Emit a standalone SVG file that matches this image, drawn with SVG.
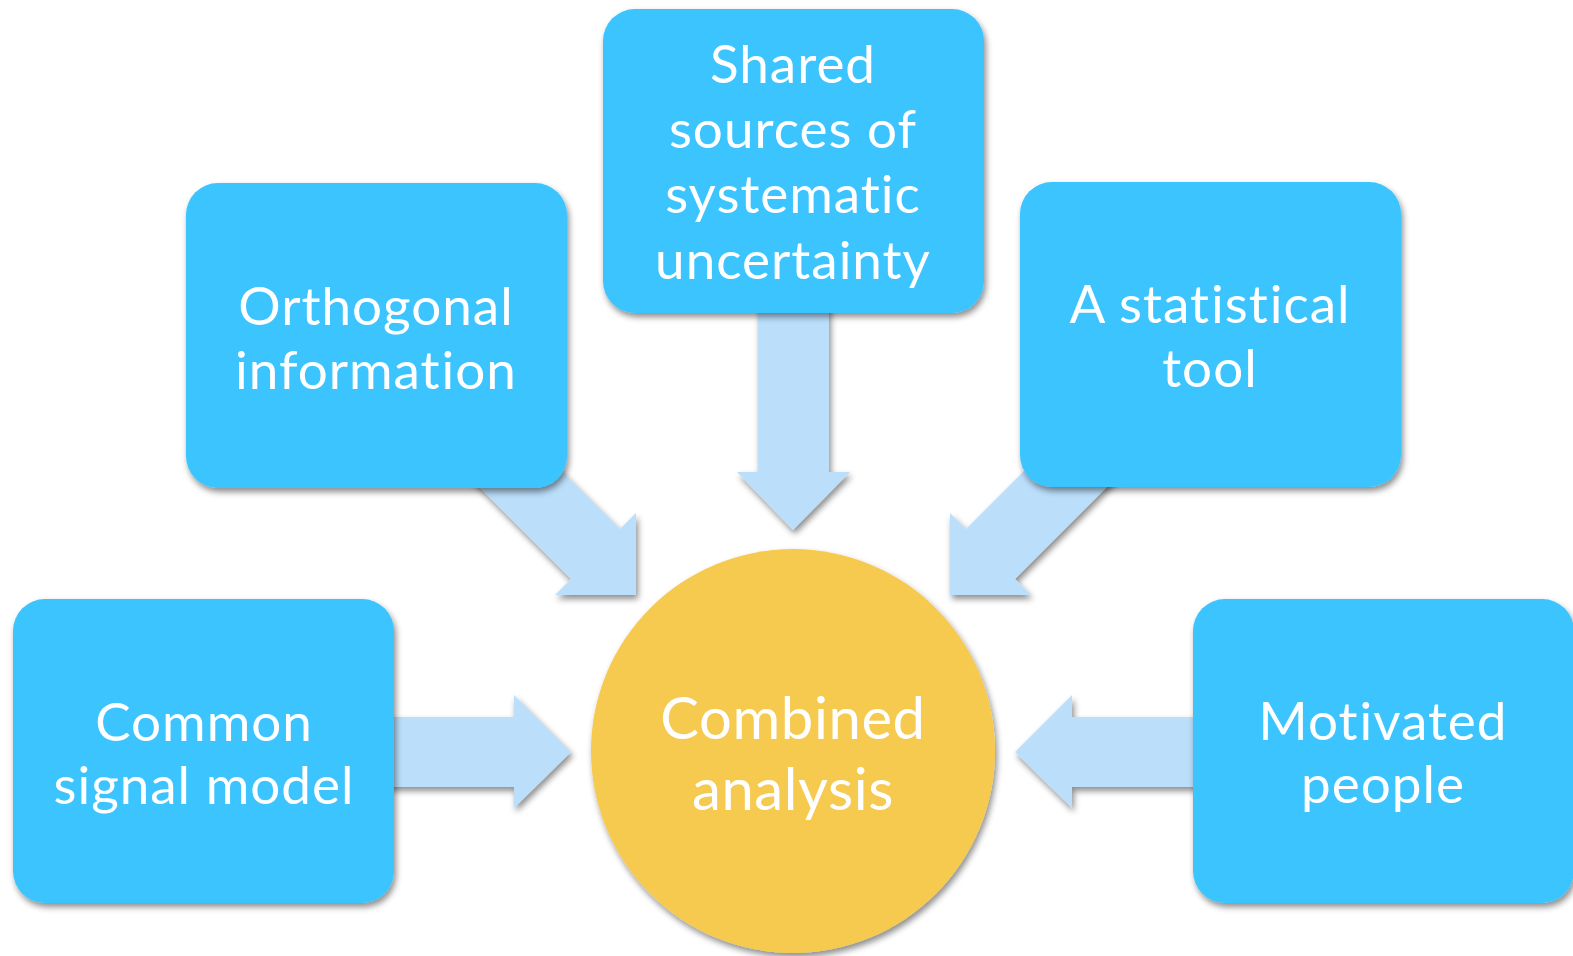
<svg xmlns="http://www.w3.org/2000/svg" width="1573" height="956" viewBox="0 0 1573 956">
  <defs>
    <filter id="shadow" x="-10%" y="-10%" width="125%" height="125%">
      <feDropShadow dx="2" dy="4" stdDeviation="3" flood-color="#000" flood-opacity="0.45"/>
    </filter>
    <style>
      .box { fill: #3AC4FE; filter: url(#shadow); }
      .hub { fill: #F6C950; filter: url(#shadow); }
      .arrow { fill: #BBDEFB; filter: url(#shadow); }
      .label { font-family: Lato, "Noto Sans", sans-serif; font-size: 53px; fill: #FFFFFF; text-anchor: middle;
               font-variant-ligatures: none; font-feature-settings: "liga" 0, "clig" 0, "calt" 0, "dlig" 0; letter-spacing: 1px; }
      .hub-label { font-size: 58px; letter-spacing: 0.6px; }
    </style>
  </defs>
  <rect width="1573" height="956" fill="#FFFFFF"/>

  <!-- block arrows pointing into the central circle -->
  <g id="connectors">
    <polygon class="arrow" points="300,717 514,717 514,695 571,752 514,808 514,787 300,787"/>
    <polygon class="arrow" points="1286,717 1072,717 1072,695 1015,752 1072,808 1072,787 1286,787"/>
    <polygon class="arrow" points="758,200 829,200 829,472 850,472 793,530 737,472 758,472"/>
    <polygon class="arrow" points="531,440 620,529 636,513 636,595 555,595 571,579 432,440"/>
    <polygon class="arrow" points="1055,440 966,529 950,513 950,595 1031,595 1015,579 1154,440"/>
  </g>

  <g id="node-common">
    <rect class="box" x="13" y="599" width="381" height="304" rx="32"/>
    <text class="label" x="204" y="741">Common</text>
    <text class="label" x="204" y="804">signal model</text>
  </g>

  <g id="node-orthogonal">
    <rect class="box" x="186" y="183" width="381" height="305" rx="32"/>
    <text class="label" x="376" y="325">Orthogonal</text>
    <!-- separate "t" and "i" runs so the font's joined t-i form is not used -->
    <text class="label" x="376" y="389">informat<tspan dx="1">ion</tspan></text>
  </g>

  <g id="node-shared">
    <rect class="box" x="603" y="9" width="381" height="304" rx="32"/>
    <text class="label" x="793" y="83">Shared</text>
    <text class="label" x="793" y="148">sources of</text>
    <text class="label" x="793" y="213">systematic</text>
    <text class="label" x="793" y="279">uncertainty</text>
  </g>

  <g id="node-statistical">
    <rect class="box" x="1020" y="182" width="381" height="305" rx="32"/>
    <text class="label" x="1210" y="323">A stat<tspan dx="1">ist</tspan><tspan dx="1">ical</tspan></text>
    <text class="label" x="1210" y="387">tool</text>
  </g>

  <g id="node-motivated">
    <rect class="box" x="1193" y="599" width="381" height="304" rx="32"/>
    <text class="label" x="1383" y="740">Mot<tspan dx="1">ivated</tspan></text>
    <text class="label" x="1383" y="803">people</text>
  </g>

  <g id="node-combined">
    <circle class="hub" cx="793" cy="751" r="202"/>
    <text class="label hub-label" x="793" y="739">Combined</text>
    <text class="label hub-label" x="793" y="810">analysis</text>
  </g>
</svg>
